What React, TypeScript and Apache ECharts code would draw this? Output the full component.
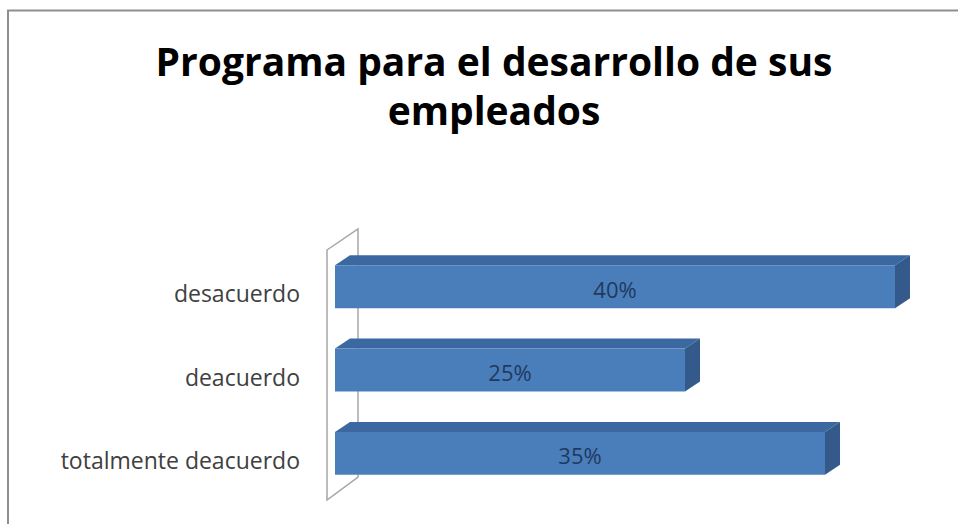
import React, { useEffect, useRef } from "react";
import * as echarts from "echarts";

const categories = ["totalmente deacuerdo", "deacuerdo", "desacuerdo"];
const values = [35, 25, 40];
const titleText = "Programa para el desarrollo de sus\nempleados";

const FRONT = "#4a7ebb";
const TOP = "#3b68a0";
const SIDE = "#335a8a";
const DX = 15;
const DY = -10;

export default function App() {
  const ref = useRef<HTMLDivElement>(null);
  useEffect(() => {
    if (!ref.current) return;
    const chart = echarts.init(ref.current, null, { renderer: "svg" });
    const option: any = {
      animation: false,
      backgroundColor: "#ffffff",
      title: {
        text: titleText,
        left: 489,
        top: 31,
        textAlign: "center",
        textStyle: {
          fontFamily: "Open Sans",
          fontSize: 39,
          fontWeight: "bold",
          color: "#000000",
          lineHeight: 49,
        },
      },
      graphic: [
        {
          type: "rect",
          shape: { x: 8, y: 10.5, width: 1200, height: 1000 },
          style: { fill: "none", stroke: "#8f8f8f", lineWidth: 2 },
          silent: true,
        },
      ],
      grid: { left: 335, top: 245, width: 560, height: 250 },
      xAxis: { type: "value", min: 0, max: 40, show: false },
      yAxis: {
        type: "category",
        data: categories,
        axisLine: { show: false },
        axisTick: { show: false },
        splitLine: { show: false },
        axisLabel: {
          margin: 35,
          color: "#404040",
          fontFamily: "Open Sans",
          fontSize: 23,
          verticalAlign: "top",
          lineHeight: 13,
        },
      },
      series: [
        {
          type: "custom",
          z: 1,
          data: [[0, 0]],
          renderItem: (params: any, api: any) => {
            const cs = params.coordSys;
            const x = cs.x;
            const top = cs.y;
            const bottom = cs.y + cs.height;
            return {
              type: "polygon",
              shape: {
                points: [
                  [x - 8, top + 5],
                  [x + 23, top - 16],
                  [x + 23, bottom - 18],
                  [x - 8, bottom + 5],
                ],
              },
              style: { fill: "#ffffff", stroke: "#a6a6a6", lineWidth: 1.5 },
            };
          },
        },
        {
          type: "custom",
          z: 2,
          data: values.map((v, i) => [v, i]),
          encode: { x: 0, y: 1 },
          renderItem: (params: any, api: any) => {
            const v = api.value(0);
            const idx = api.value(1);
            const p0 = api.coord([0, idx]);
            const p1 = api.coord([v, idx]);
            const band = api.size([0, 1])[1];
            const h = band * 0.515;
            const x0 = p0[0];
            const x1 = p1[0];
            const t = p0[1] - h / 2;
            const b = p0[1] + h / 2;
            return {
              type: "group",
              children: [
                {
                  type: "polygon",
                  shape: {
                    points: [
                      [x0, t],
                      [x0 + DX, t + DY],
                      [x1 + DX, t + DY],
                      [x1, t],
                    ],
                  },
                  style: { fill: TOP },
                },
                {
                  type: "polygon",
                  shape: {
                    points: [
                      [x1, t],
                      [x1 + DX, t + DY],
                      [x1 + DX, b + DY],
                      [x1, b],
                    ],
                  },
                  style: { fill: SIDE },
                },
                {
                  type: "rect",
                  shape: { x: x0, y: t, width: x1 - x0, height: h },
                  style: { fill: FRONT },
                },
                {
                  type: "text",
                  style: {
                    x: (x0 + x1) / 2,
                    y: p0[1] + 2,
                    text: v + "%",
                    align: "center",
                    verticalAlign: "middle",
                    fill: "#1f3a60",
                    fontFamily: "Open Sans",
                    fontSize: 22,
                  },
                },
              ],
            };
          },
        },
      ],
    };
    chart.setOption(option);
    return () => chart.dispose();
  }, []);
  return (
    <div
      ref={ref}
      style={{ position: "fixed", left: 0, top: 0, width: 958, height: 524 }}
    />
  );
}
